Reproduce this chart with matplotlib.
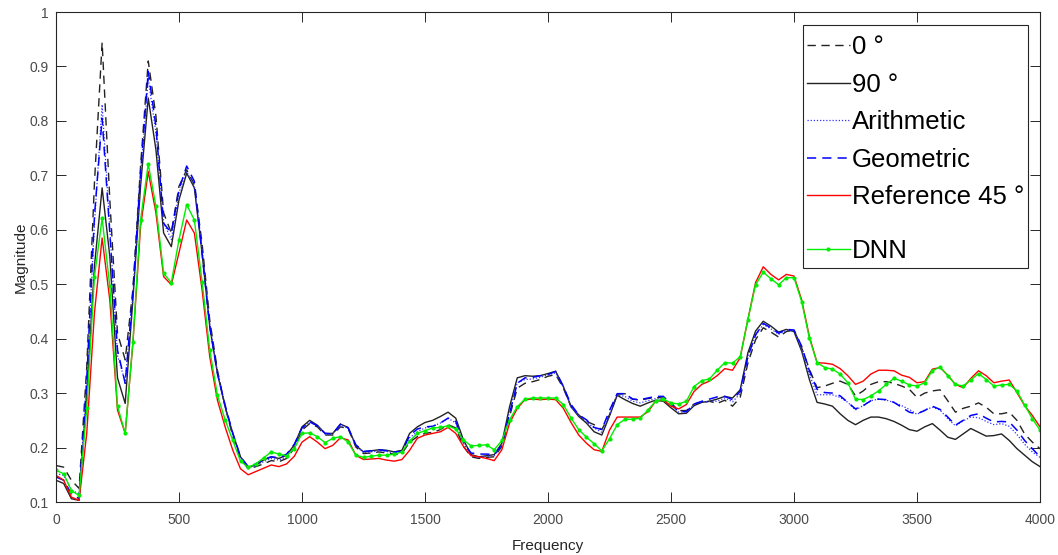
import numpy as np
import matplotlib
matplotlib.use("Agg")
import matplotlib.pyplot as plt
from matplotlib.offsetbox import DrawingArea
from matplotlib.patches import Rectangle
from matplotlib.transforms import IdentityTransform

plt.rcParams['font.family'] = ['Liberation Sans', 'DejaVu Sans']

step_hz = 31.25
x_ticks = [0, 500, 1000, 1500, 2000, 2500, 3000, 3500, 4000]
y_ticks = [0.1, 0.2, 0.3, 0.4, 0.5, 0.6, 0.7, 0.8, 0.9, 1.0]
y_tick_labels = ["0.1", "0.2", "0.3", "0.4", "0.5", "0.6", "0.7", "0.8", "0.9", "1"]
labels = ["0 \u00b0", "90 \u00b0", "Arithmetic", "Geometric", "Reference 45 \u00b0", "DNN"]

deg0 = [
    0.167, 0.164, 0.140, 0.125, 0.348, 0.686, 0.944, 0.655, 0.410, 0.361,
    0.490, 0.717, 0.910, 0.809, 0.631, 0.594, 0.680, 0.710, 0.683, 0.575,
    0.434, 0.342, 0.275, 0.220, 0.180, 0.161, 0.165, 0.170, 0.176, 0.174,
    0.180, 0.199, 0.232, 0.244, 0.238, 0.223, 0.223, 0.238, 0.235, 0.201,
    0.189, 0.190, 0.192, 0.190, 0.188, 0.189, 0.210, 0.220, 0.226, 0.228,
    0.233, 0.242, 0.236, 0.202, 0.183, 0.180, 0.182, 0.183, 0.202, 0.257,
    0.309, 0.318, 0.321, 0.325, 0.331, 0.334, 0.309, 0.275, 0.260, 0.248,
    0.242, 0.233, 0.260, 0.298, 0.299, 0.289, 0.287, 0.290, 0.292, 0.291,
    0.282, 0.268, 0.268, 0.280, 0.283, 0.285, 0.281, 0.287, 0.276, 0.292,
    0.355, 0.398, 0.420, 0.412, 0.403, 0.413, 0.416, 0.383, 0.344, 0.310,
    0.313, 0.318, 0.322, 0.316, 0.295, 0.304, 0.316, 0.321, 0.321, 0.318,
    0.313, 0.307, 0.292, 0.300, 0.304, 0.306, 0.286, 0.265, 0.272, 0.276,
    0.282, 0.274, 0.262, 0.262, 0.265, 0.250, 0.225, 0.210, 0.198,
]

deg90 = [
    0.140, 0.134, 0.106, 0.103, 0.299, 0.533, 0.677, 0.551, 0.328, 0.281,
    0.471, 0.680, 0.842, 0.747, 0.594, 0.569, 0.655, 0.704, 0.677, 0.557,
    0.422, 0.336, 0.275, 0.226, 0.183, 0.164, 0.168, 0.177, 0.183, 0.180,
    0.186, 0.205, 0.238, 0.250, 0.241, 0.226, 0.226, 0.243, 0.237, 0.204,
    0.192, 0.194, 0.196, 0.195, 0.192, 0.195, 0.226, 0.238, 0.246, 0.250,
    0.257, 0.265, 0.254, 0.214, 0.187, 0.183, 0.185, 0.187, 0.208, 0.275,
    0.328, 0.332, 0.331, 0.332, 0.336, 0.340, 0.312, 0.275, 0.257, 0.245,
    0.229, 0.223, 0.258, 0.296, 0.288, 0.281, 0.276, 0.282, 0.287, 0.285,
    0.273, 0.262, 0.263, 0.277, 0.283, 0.285, 0.289, 0.294, 0.291, 0.306,
    0.374, 0.414, 0.432, 0.423, 0.412, 0.417, 0.413, 0.377, 0.325, 0.283,
    0.280, 0.276, 0.262, 0.250, 0.242, 0.250, 0.256, 0.256, 0.253, 0.248,
    0.241, 0.233, 0.230, 0.238, 0.244, 0.232, 0.219, 0.215, 0.225, 0.235,
    0.228, 0.221, 0.222, 0.225, 0.213, 0.198, 0.186, 0.174, 0.165,
]

arithmetic = [
    0.152, 0.149, 0.123, 0.114, 0.322, 0.610, 0.830, 0.603, 0.369, 0.321,
    0.481, 0.699, 0.877, 0.778, 0.613, 0.582, 0.668, 0.707, 0.680, 0.566,
    0.428, 0.339, 0.275, 0.223, 0.182, 0.163, 0.167, 0.174, 0.180, 0.177,
    0.183, 0.202, 0.235, 0.247, 0.240, 0.225, 0.225, 0.241, 0.236, 0.203,
    0.191, 0.192, 0.194, 0.193, 0.190, 0.192, 0.218, 0.229, 0.236, 0.239,
    0.245, 0.254, 0.245, 0.208, 0.185, 0.182, 0.184, 0.185, 0.205, 0.266,
    0.319, 0.325, 0.326, 0.329, 0.334, 0.337, 0.311, 0.275, 0.259, 0.247,
    0.236, 0.228, 0.259, 0.297, 0.294, 0.285, 0.282, 0.286, 0.290, 0.288,
    0.278, 0.265, 0.266, 0.279, 0.283, 0.285, 0.285, 0.291, 0.284, 0.299,
    0.365, 0.406, 0.426, 0.418, 0.408, 0.415, 0.415, 0.380, 0.335, 0.297,
    0.297, 0.297, 0.292, 0.283, 0.269, 0.277, 0.286, 0.289, 0.287, 0.283,
    0.277, 0.270, 0.261, 0.269, 0.274, 0.269, 0.253, 0.240, 0.249, 0.256,
    0.255, 0.248, 0.242, 0.244, 0.239, 0.224, 0.206, 0.192, 0.182,
]

geometric = [
    0.146, 0.140, 0.115, 0.106, 0.324, 0.625, 0.805, 0.594, 0.379, 0.318,
    0.483, 0.704, 0.891, 0.790, 0.612, 0.594, 0.674, 0.717, 0.689, 0.557,
    0.422, 0.336, 0.278, 0.226, 0.183, 0.165, 0.170, 0.178, 0.183, 0.181,
    0.188, 0.206, 0.236, 0.247, 0.240, 0.226, 0.225, 0.243, 0.236, 0.205,
    0.193, 0.194, 0.196, 0.194, 0.192, 0.193, 0.222, 0.234, 0.238, 0.239,
    0.245, 0.254, 0.248, 0.209, 0.190, 0.188, 0.188, 0.187, 0.205, 0.263,
    0.318, 0.328, 0.329, 0.332, 0.334, 0.340, 0.312, 0.279, 0.260, 0.251,
    0.237, 0.233, 0.268, 0.299, 0.299, 0.289, 0.288, 0.291, 0.294, 0.294,
    0.280, 0.266, 0.266, 0.280, 0.285, 0.289, 0.293, 0.294, 0.288, 0.303,
    0.367, 0.407, 0.428, 0.420, 0.410, 0.417, 0.416, 0.386, 0.341, 0.307,
    0.301, 0.300, 0.295, 0.283, 0.271, 0.277, 0.286, 0.289, 0.288, 0.283,
    0.274, 0.265, 0.262, 0.268, 0.276, 0.270, 0.256, 0.241, 0.250, 0.259,
    0.262, 0.254, 0.247, 0.248, 0.247, 0.232, 0.213, 0.198, 0.183,
]

reference45 = [
    0.149, 0.140, 0.109, 0.103, 0.226, 0.447, 0.585, 0.471, 0.269, 0.226,
    0.391, 0.606, 0.707, 0.631, 0.514, 0.499, 0.558, 0.618, 0.594, 0.490,
    0.367, 0.287, 0.238, 0.195, 0.161, 0.150, 0.156, 0.162, 0.168, 0.165,
    0.170, 0.184, 0.210, 0.220, 0.210, 0.198, 0.204, 0.218, 0.214, 0.186,
    0.178, 0.179, 0.180, 0.177, 0.175, 0.178, 0.195, 0.217, 0.223, 0.226,
    0.229, 0.237, 0.226, 0.202, 0.185, 0.183, 0.180, 0.176, 0.196, 0.245,
    0.272, 0.288, 0.289, 0.288, 0.289, 0.288, 0.272, 0.246, 0.223, 0.208,
    0.196, 0.193, 0.232, 0.256, 0.256, 0.256, 0.256, 0.266, 0.285, 0.288,
    0.276, 0.271, 0.279, 0.303, 0.316, 0.322, 0.332, 0.345, 0.342, 0.365,
    0.435, 0.503, 0.532, 0.518, 0.508, 0.518, 0.515, 0.471, 0.404, 0.356,
    0.355, 0.353, 0.345, 0.332, 0.316, 0.322, 0.335, 0.342, 0.342, 0.341,
    0.333, 0.329, 0.319, 0.321, 0.344, 0.347, 0.333, 0.316, 0.310, 0.327,
    0.341, 0.332, 0.319, 0.322, 0.324, 0.301, 0.277, 0.259, 0.238,
]

dnn = [
    0.158, 0.152, 0.121, 0.112, 0.272, 0.514, 0.621, 0.496, 0.276, 0.226,
    0.394, 0.618, 0.721, 0.643, 0.520, 0.503, 0.582, 0.646, 0.618, 0.505,
    0.379, 0.296, 0.251, 0.213, 0.175, 0.164, 0.170, 0.181, 0.192, 0.188,
    0.185, 0.198, 0.226, 0.227, 0.220, 0.209, 0.217, 0.220, 0.210, 0.186,
    0.182, 0.184, 0.186, 0.186, 0.188, 0.192, 0.212, 0.226, 0.231, 0.236,
    0.237, 0.240, 0.234, 0.214, 0.203, 0.204, 0.205, 0.196, 0.213, 0.251,
    0.275, 0.289, 0.291, 0.291, 0.291, 0.291, 0.279, 0.254, 0.233, 0.219,
    0.207, 0.194, 0.216, 0.242, 0.252, 0.252, 0.254, 0.269, 0.285, 0.289,
    0.282, 0.280, 0.285, 0.312, 0.323, 0.326, 0.342, 0.356, 0.355, 0.367,
    0.435, 0.499, 0.522, 0.510, 0.499, 0.512, 0.512, 0.468, 0.401, 0.356,
    0.347, 0.344, 0.335, 0.319, 0.289, 0.288, 0.295, 0.304, 0.316, 0.327,
    0.322, 0.315, 0.313, 0.319, 0.341, 0.348, 0.332, 0.316, 0.313, 0.324,
    0.336, 0.325, 0.313, 0.315, 0.316, 0.304, 0.278, 0.253, 0.232,
]

freq = np.arange(len(dnn)) * step_hz

W, H = 1058, 555
fig = plt.figure(figsize=(W / 100, H / 100), dpi=100)
ax = fig.add_axes([56 / W, 1 - 502 / H, (1040 - 56) / W, (502 - 12) / H])

ax.plot(freq, deg0, color='#222222', lw=1.0, ls=(0, (6, 4)), label=labels[0])
ax.plot(freq, deg90, color='#222222', lw=1.0, ls='-', label=labels[1])
ax.plot(freq, arithmetic, color='#3333ff', lw=0.9, ls=(0, (1, 1.5)), label=labels[2])
ax.plot(freq, geometric, color='#0000ff', lw=1.1, ls=(0, (6, 4)), label=labels[3])
ax.plot(freq, reference45, color='#ff0000', lw=1.0, ls='-', label=labels[4])
ax.plot(freq, dnn, color='#00ee00', lw=1.0, ls='-', marker='.', ms=4, label=labels[5])

ax.set_xlim(0, 4000)
ax.set_ylim(0.1, 1.0)
ax.set_xticks(x_ticks)
ax.set_xticklabels([str(t) for t in x_ticks])
ax.set_yticks(y_ticks)
ax.set_yticklabels(y_tick_labels)
ax.tick_params(direction='in', top=True, right=True, length=7, width=0.7,
               labelsize=10, colors='#262626', labelcolor='#4a4a4a')
ax.tick_params(axis='x', pad=8)
ax.tick_params(axis='y', pad=5)
for s in ax.spines.values():
    s.set_color('#262626')
    s.set_linewidth(0.8)
ax.set_xlabel("Frequency", fontsize=11, color='#262626', labelpad=8.5)
ax.set_ylabel("Magnitude", fontsize=11, color='#262626', labelpad=1.5)

leg = ax.legend(loc='upper right', bbox_to_anchor=(1024 / W, 1 - 35 / H),
                bbox_transform=fig.transFigure, borderaxespad=0, borderpad=0,
                fontsize=18.5, handlelength=1.67, handletextpad=0.08,
                labelspacing=0.53, frameon=False)
# extra gap before the last entry (as in the reference legend)
col = leg._legend_handle_box.get_children()[0]
col.get_children().insert(5, DrawingArea(0, 1.5))
leg.set_zorder(6)

fig.canvas.draw()
bb = leg.get_window_extent(fig.canvas.get_renderer())
frame = Rectangle((bb.x0 - 4, bb.y0 - 5), bb.width + 8, bb.height + 15,
                  transform=IdentityTransform(), fill=True, facecolor='white',
                  edgecolor='#262626', lw=0.8, zorder=5.5, clip_on=False)
ax.add_artist(frame)

fig.savefig("out.png", dpi=100)
